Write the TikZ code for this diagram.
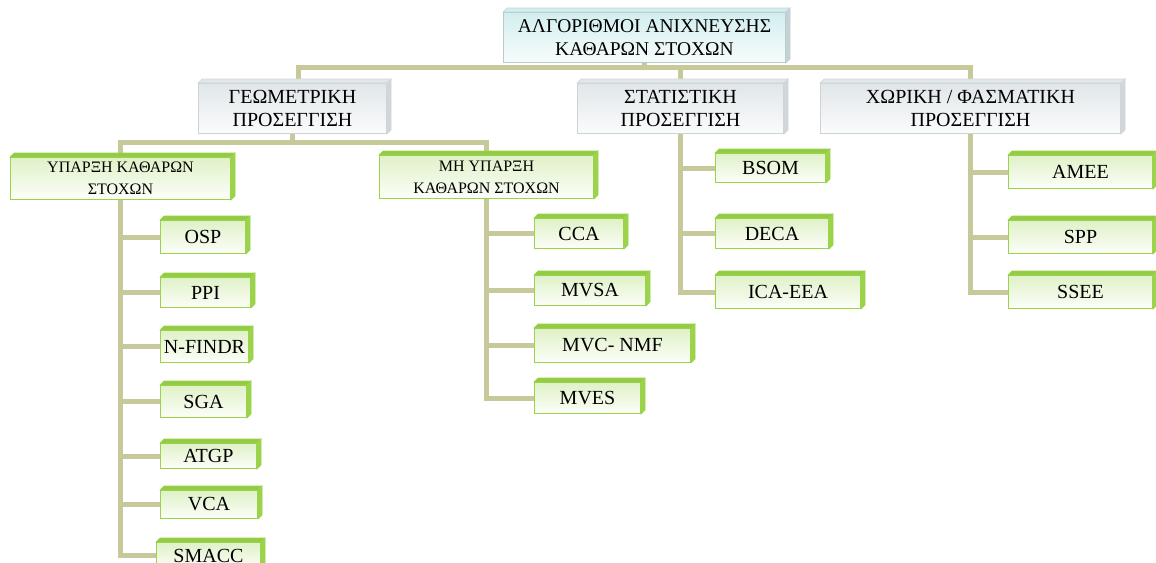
\documentclass[tikz,border=0pt]{standalone}
\usepackage{fontspec}
\setmainfont{Liberation Serif}
\usetikzlibrary{backgrounds}

\definecolor{trunk}{HTML}{C8C99B}
\definecolor{rootedge}{HTML}{B9CACD}
\definecolor{roottop}{HTML}{D3EEEF}
\definecolor{rootbot}{HTML}{F7FCFC}
\definecolor{rootside}{HTML}{C3D2D4}
\definecolor{grayedge}{HTML}{CDD4D8}
\definecolor{graytop}{HTML}{E1E6E9}
\definecolor{graybot}{HTML}{FBFCFC}
\definecolor{grayside}{HTML}{D0D6D9}
\definecolor{greenedge}{HTML}{9BD34A}
\definecolor{greentop}{HTML}{E0F1C8}
\definecolor{greenbot}{HTML}{FCFEF8}
\definecolor{greenside}{HTML}{92CC45}

\tikzset{
  conn/.style={draw=trunk, line width=5pt},
  frontbox/.style={anchor=north west, inner sep=0pt, align=center, line width=1pt},
  rootbox/.style={frontbox, draw=rootedge, top color=roottop, bottom color=rootbot,
    font=\fontsize{19.5}{23}\selectfont},
  graybox/.style={frontbox, draw=grayedge, top color=graytop, bottom color=graybot,
    font=\fontsize{20}{23}\selectfont},
  greenbox/.style={frontbox, draw=greenedge, top color=greentop, bottom color=greenbot,
    font=\fontsize{16}{22}\selectfont},
  leafbox/.style={frontbox, draw=greenedge, top color=greentop, bottom color=greenbot,
    font=\fontsize{20}{22}\selectfont},
}

% oblique top and right faces of a box
\newcommand{\bevelfaces}[3]{%
  \filldraw[fill=#2, draw=#3, line width=0.6pt]
    (#1.north west) -- ++(4,-4) -- ([shift={(4,-4)}]#1.north east) -- (#1.north east) -- cycle;
  \filldraw[fill=#3, draw=#3, line width=0.6pt]
    (#1.north east) -- ++(4,-4) -- ([shift={(4,-4)}]#1.south east) -- (#1.south east) -- cycle;
}

\begin{document}
\begin{tikzpicture}[x=1pt, y=-1pt]
\clip (0,0) rectangle (1156,562);

% top level
\node[rootbox, minimum width=282pt, minimum height=50pt] (root) at (503,12)
  {ΑΛΓΟΡΙΘΜΟΙ ΑΝΙΧΝΕΥΣΗΣ\\ΚΑΘΑΡΩΝ ΣΤΟΧΩΝ};

% approaches
\node[graybox, minimum width=188pt, minimum height=50pt] (geo) at (198,83)
  {ΓΕΩΜΕΤΡΙΚΗ\\ΠΡΟΣΕΓΓΙΣΗ};
\node[graybox, minimum width=206pt, minimum height=50pt] (stat) at (577,83)
  {ΣΤΑΤΙΣΤΙΚΗ\\ΠΡΟΣΕΓΓΙΣΗ};
\node[graybox, minimum width=300pt, minimum height=50pt] (spat) at (820,83)
  {ΧΩΡΙΚΗ / ΦΑΣΜΑΤΙΚΗ\\ΠΡΟΣΕΓΓΙΣΗ};

% geometric sub-groups
\node[greenbox, minimum width=220pt, minimum height=42pt] (pure) at (10,157)
  {ΥΠΑΡΞΗ ΚΑΘΑΡΩΝ\\ΣΤΟΧΩΝ};
\node[greenbox, minimum width=214pt, minimum height=43pt] (nopure) at (379,155)
  {ΜΗ ΥΠΑΡΞΗ\\ΚΑΘΑΡΩΝ ΣΤΟΧΩΝ};

% algorithms: pure pixels present
\node[leafbox, minimum width=85pt, minimum height=33pt] (osp)    at (160,220) {OSP};
\node[leafbox, minimum width=90pt, minimum height=30pt] (ppi)    at (160,277) {PPI};
\node[leafbox, minimum width=88pt, minimum height=32pt] (nfindr) at (160,330) {N-FINDR};
\node[leafbox, minimum width=86pt, minimum height=32pt] (sga)    at (160,385) {SGA};
\node[leafbox, minimum width=96pt, minimum height=25pt] (atgp)   at (160,443) {ATGP};
\node[leafbox, minimum width=97pt, minimum height=28pt] (vca)    at (160,490) {VCA};
\node[leafbox, minimum width=104pt, minimum height=26pt] (smacc) at (156,542) {SMACC};

% algorithms: no pure pixels
\node[leafbox, minimum width=89pt, minimum height=30pt]  (cca)    at (534,218) {CCA};
\node[leafbox, minimum width=111pt, minimum height=30pt] (mvsa)   at (534,275) {MVSA};
\node[leafbox, minimum width=156pt, minimum height=34pt] (mvcnmf) at (534,328) {MVC- NMF};
\node[leafbox, minimum width=106pt, minimum height=31pt] (mves)   at (534,382) {MVES};

% statistical algorithms
\node[leafbox, minimum width=110pt, minimum height=29pt] (bsom)   at (715,153) {BSOM};
\node[leafbox, minimum width=113pt, minimum height=30pt] (deca)   at (715,218) {DECA};
\node[leafbox, minimum width=145pt, minimum height=33pt] (icaeea) at (715,275) {ICA-EEA};

% spatial / spectral algorithms
\node[leafbox, minimum width=144pt, minimum height=33pt] (amee) at (1008,155) {AMEE};
\node[leafbox, minimum width=144pt, minimum height=33pt] (spp)  at (1008,220) {SPP};
\node[leafbox, minimum width=144pt, minimum height=33pt] (ssee) at (1008,275) {SSEE};

% depth faces
\bevelfaces{root}{roottop}{rootside}
\foreach \n in {geo,stat,spat} {\bevelfaces{\n}{graytop}{grayside}}
\foreach \n in {pure,nopure,osp,ppi,nfindr,sga,atgp,vca,smacc,cca,mvsa,mvcnmf,mves,
                bsom,deca,icaeea,amee,spp,ssee} {\bevelfaces{\n}{greenside}{greenedge}}

\begin{scope}[on background layer]
  \fill[white] (0,0) rectangle (1156,562);
  \coordinate (bar) at (0,67);
  \coordinate (subbar) at (0,142);
  % root to approaches
  \draw[conn] (root.south) -- (root.south |- bar);
  \draw[conn] ([xshift=6pt]geo.north) -- ([xshift=6pt]geo.north |- bar)
              -- (spat.north |- bar) -- (spat.north);
  \draw[conn] (stat.north) -- (stat.north |- bar);
  % geometric to its two groups
  \draw[conn] (geo.south) -- (geo.south |- subbar);
  \draw[conn] (pure.north) -- (pure.north |- subbar) -- (nopure.north |- subbar) -- (nopure.north);
  % pure pixel column
  \draw[conn] (pure.south) |- (smacc.west);
  \foreach \n in {osp,ppi,nfindr,sga,atgp,vca}
    \draw[conn] (pure.south |- \n.west) -- (\n.west);
  % no pure pixel column
  \draw[conn] (nopure.south) |- (mves.west);
  \foreach \n in {cca,mvsa,mvcnmf}
    \draw[conn] (nopure.south |- \n.west) -- (\n.west);
  % statistical column
  \draw[conn] (stat.south) |- (icaeea.west);
  \foreach \n in {bsom,deca}
    \draw[conn] (stat.south |- \n.west) -- (\n.west);
  % spatial / spectral column
  \draw[conn] (spat.south) |- (ssee.west);
  \foreach \n in {amee,spp}
    \draw[conn] (spat.south |- \n.west) -- (\n.west);
\end{scope}
\end{tikzpicture}
\end{document}
